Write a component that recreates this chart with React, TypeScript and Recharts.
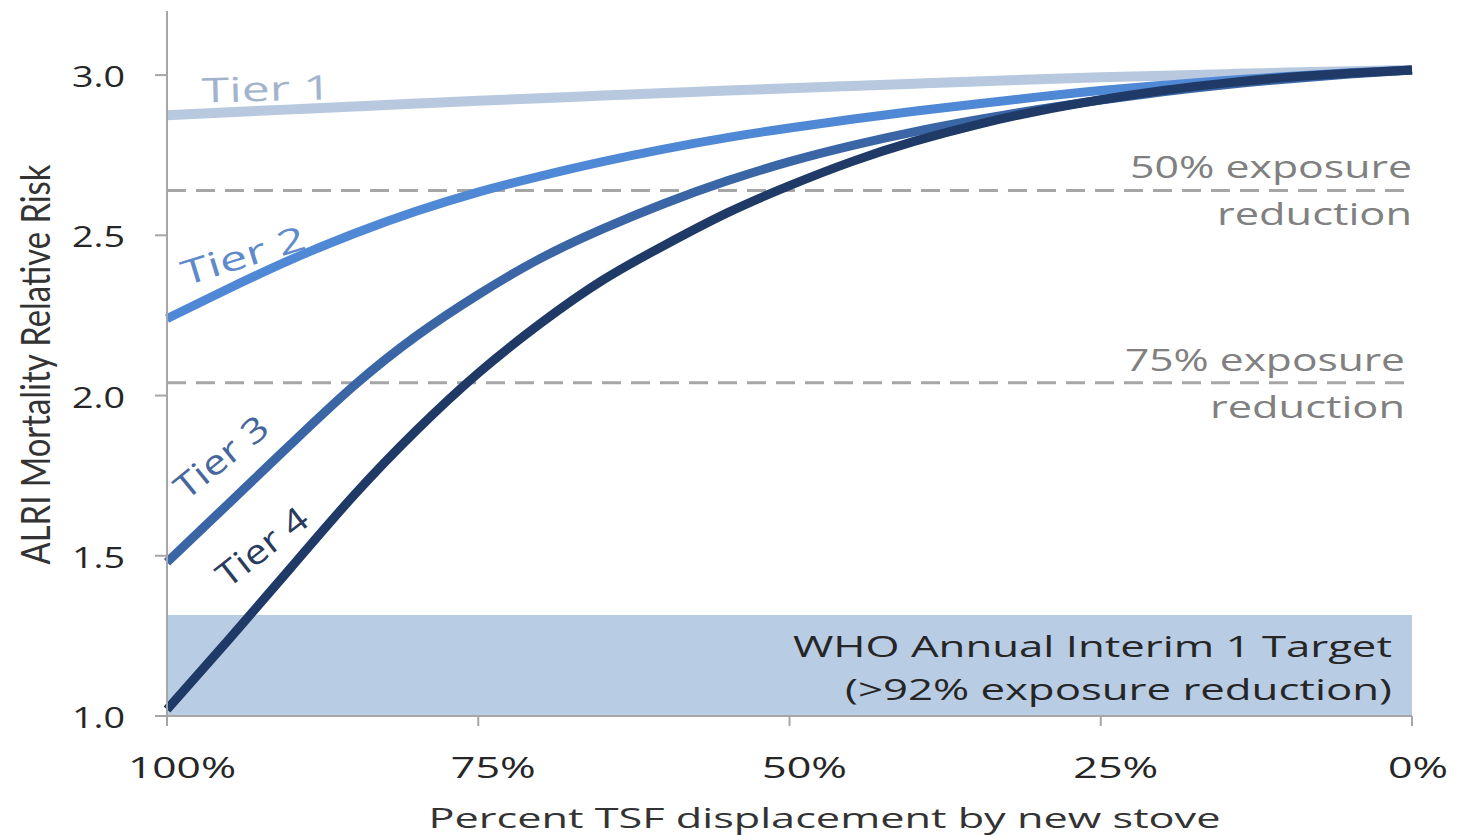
import React from 'react';
import {
  ComposedChart,
  Line,
  XAxis,
  YAxis,
  ReferenceLine,
  ReferenceArea,
  ReferenceDot,
} from 'recharts';

// Percent of traditional solid fuel (TSF) displaced by the new stove
const displacement = [100, 95, 90, 85, 80, 75, 70, 65, 60, 55, 50, 45, 40, 35, 30, 25, 20, 15, 10, 5, 0];
const tier1 = [2.875, 2.884, 2.893, 2.902, 2.911, 2.92, 2.928, 2.936, 2.944, 2.952, 2.959, 2.966, 2.973, 2.98, 2.987, 2.993, 2.998, 3.003, 3.008, 3.012, 3.016];
const tier2 = [2.24, 2.335, 2.425, 2.505, 2.575, 2.635, 2.685, 2.73, 2.77, 2.805, 2.835, 2.862, 2.887, 2.91, 2.932, 2.952, 2.968, 2.983, 2.996, 3.007, 3.016];
const tier3 = [1.48, 1.665, 1.85, 2.03, 2.185, 2.315, 2.428, 2.52, 2.6, 2.67, 2.73, 2.78, 2.823, 2.86, 2.893, 2.922, 2.948, 2.97, 2.988, 3.003, 3.016];
const tier4 = [1.02, 1.24, 1.465, 1.688, 1.89, 2.07, 2.225, 2.36, 2.47, 2.57, 2.655, 2.73, 2.793, 2.845, 2.888, 2.923, 2.952, 2.975, 2.993, 3.006, 3.016];

const xTicks = [100, 75, 50, 25, 0];
const yTicks = [1.0, 1.5, 2.0, 2.5, 3.0];

const exposure50 = 2.64;
const exposure75 = 2.04;
const whoTarget = 1.315;

const tierNames = ['Tier 1', 'Tier 2', 'Tier 3', 'Tier 4'];
const tierLabelPct = [92.0, 93.9, 95.7, 92.4];
const tierLabelRR = [2.96, 2.44, 1.81, 1.53];

const xTitle = 'Percent TSF displacement by new stove';
const yTitle = 'ALRI Mortality Relative Risk';
const exposure50Text = ['50% exposure', 'reduction'];
const exposure75Text = ['75% exposure', 'reduction'];
const whoText = ['WHO Annual Interim 1 Target', '(>92% exposure reduction)'];

// styles
const lineColors = ['#b7c8df', '#4f88d4', '#3a66a6', '#1f3a66'];
const labelColors = ['#a2b4cc', '#5f8acb', '#46679c', '#2a3c5e'];
const labelAngles = [-1.5, -17, -39, -38];
const labelLengths = [130, 128, 110, 106];
const FONT = '"Open Sans", "DejaVu Sans", sans-serif';
const AXIS_GRAY = '#a6a6a6';

const data = displacement.map((p, i) => ({
  pct: p,
  t1: tier1[i],
  t2: tier2[i],
  t3: tier3[i],
  t4: tier4[i],
}));

const YTick = (props: any) => {
  const { x, y, payload } = props;
  return (
    <text
      x={x - 28}
      y={y + 12}
      textAnchor="end"
      fontSize={30}
      fontFamily={FONT}
      fill="#262626"
      textLength={53}
      lengthAdjust="spacingAndGlyphs"
    >
      {Number(payload.value).toFixed(1)}
    </text>
  );
};

const XTick = (props: any) => {
  const { x, y, payload } = props;
  const v = Number(payload.value);
  const label = `${v}%`;
  const len = v === 100 ? 108 : v === 0 ? 60 : 85;
  const dx = v === 0 ? 6 : 15;
  return (
    <text
      x={x + dx}
      y={y + 50}
      textAnchor="middle"
      fontSize={29}
      fontFamily={FONT}
      fill="#262626"
      textLength={len}
      lengthAdjust="spacingAndGlyphs"
    >
      {label}
    </text>
  );
};

const XTitle = (props: any) => {
  const vb = props.viewBox || {};
  const cx = vb.x + vb.width / 2 + 35;
  return (
    <text
      x={cx}
      y={vb.y + 112}
      textAnchor="middle"
      fontSize={28}
      fontFamily={FONT}
      fill="#333333"
      textLength={792}
      lengthAdjust="spacingAndGlyphs"
    >
      {xTitle}
    </text>
  );
};

const YTitle = (props: any) => {
  const vb = props.viewBox || {};
  const cx = 35;
  const cy = vb.y + vb.height / 2 + 1;
  return (
    <text
      x={0}
      y={0}
      transform={`translate(${cx} ${cy}) scale(1.25 1) rotate(-90)`}
      textAnchor="middle"
      dominantBaseline="central"
      fontSize={32}
      fontFamily='Lato, "Open Sans", sans-serif'
      fill="#333333"
      textLength={400}
      lengthAdjust="spacingAndGlyphs"
    >
      {yTitle}
    </text>
  );
};

const ExposureLabel = (props: any) => {
  const vb = props.viewBox || {};
  const right = vb.x + vb.width - (props.inset || 0);
  return (
    <g>
      <text
        x={right}
        y={vb.y - 12}
        textAnchor="end"
        fontSize={31}
        fontFamily={FONT}
        fill="#808080"
        textLength={props.len1}
        lengthAdjust="spacingAndGlyphs"
      >
        {props.lines[0]}
      </text>
      <text
        x={right}
        y={vb.y + 35}
        textAnchor="end"
        fontSize={31}
        fontFamily={FONT}
        fill="#808080"
        textLength={195}
        lengthAdjust="spacingAndGlyphs"
      >
        {props.lines[1]}
      </text>
    </g>
  );
};

const WhoLabel = (props: any) => {
  const vb = props.viewBox || {};
  const right = vb.x + vb.width - 20;
  return (
    <g>
      <text
        x={right}
        y={vb.y + 42}
        textAnchor="end"
        fontSize={30}
        fontFamily={FONT}
        fill="#262626"
        textLength={599}
        lengthAdjust="spacingAndGlyphs"
      >
        {whoText[0]}
      </text>
      <text
        x={right}
        y={vb.y + 85}
        textAnchor="end"
        fontSize={30}
        fontFamily={FONT}
        fill="#262626"
        textLength={547}
        lengthAdjust="spacingAndGlyphs"
      >
        {whoText[1]}
      </text>
    </g>
  );
};

const makeTierShape = (i: number) => (props: any) => {
  const { cx, cy } = props;
  if (cx == null || cy == null) return <g />;
  return (
    <text
      x={cx}
      y={cy}
      transform={`rotate(${labelAngles[i]} ${cx} ${cy})`}
      textAnchor="middle"
      dominantBaseline="central"
      fontSize={34}
      fontFamily={FONT}
      fill={labelColors[i]}
      textLength={labelLengths[i]}
      lengthAdjust="spacingAndGlyphs"
    >
      {tierNames[i]}
    </text>
  );
};

export default function App() {
  return (
    <div
      style={{
        position: 'absolute',
        left: 0,
        top: 0,
        width: 1459,
        height: 835,
        overflow: 'hidden',
        background: '#ffffff',
      }}
    >
      <ComposedChart
        width={1459}
        height={835}
        data={data}
        margin={{ top: 11, right: 47, left: 0, bottom: 0 }}
      >
        <XAxis
          dataKey="pct"
          type="number"
          domain={[0, 100]}
          reversed
          ticks={xTicks}
          interval={0}
          height={119}
          stroke={AXIS_GRAY}
          strokeWidth={2}
          tickSize={10}
          tick={<XTick />}
          label={<XTitle />}
        />
        <YAxis
          type="number"
          domain={[1, 3.2]}
          ticks={yTicks}
          interval={0}
          width={167}
          stroke={AXIS_GRAY}
          strokeWidth={2}
          tickSize={12}
          tick={<YTick />}
          label={<YTitle />}
          allowDataOverflow
        />
        <ReferenceArea
          x1={100}
          x2={0}
          y1={1}
          y2={whoTarget}
          fill="#b8cce4"
          fillOpacity={1}
          stroke="none"
          label={<WhoLabel />}
        />
        <ReferenceLine
          y={exposure50}
          stroke={AXIS_GRAY}
          strokeWidth={3}
          strokeDasharray="19 10"
          label={<ExposureLabel lines={exposure50Text} len1={282} inset={0} />}
        />
        <ReferenceLine
          y={exposure75}
          stroke={AXIS_GRAY}
          strokeWidth={3}
          strokeDasharray="19 10"
          label={<ExposureLabel lines={exposure75Text} len1={280} inset={7} />}
        />
        <Line type="natural" dataKey="t1" stroke={lineColors[0]} strokeWidth={10} dot={false} isAnimationActive={false} />
        <Line type="natural" dataKey="t2" stroke={lineColors[1]} strokeWidth={9} dot={false} isAnimationActive={false} />
        <Line type="natural" dataKey="t3" stroke={lineColors[2]} strokeWidth={9} dot={false} isAnimationActive={false} />
        <Line type="natural" dataKey="t4" stroke={lineColors[3]} strokeWidth={9} dot={false} isAnimationActive={false} />
        {tierNames.map((name, i) => (
          <ReferenceDot
            key={name}
            x={tierLabelPct[i]}
            y={tierLabelRR[i]}
            r={0}
            shape={makeTierShape(i)}
          />
        ))}
      </ComposedChart>
    </div>
  );
}
